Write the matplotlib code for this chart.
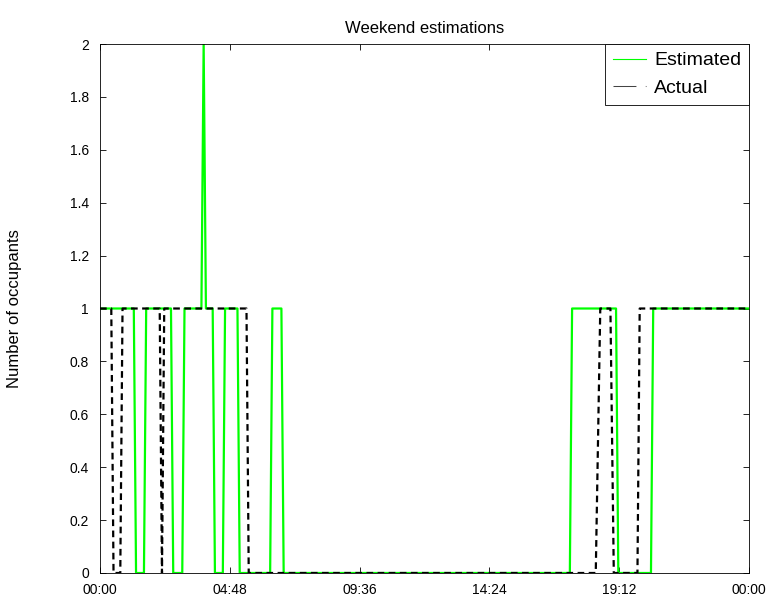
import matplotlib
matplotlib.use("Agg")
from matplotlib import pyplot as plt
from matplotlib.lines import Line2D

plt.rcParams["font.family"] = ["Liberation Sans", "DejaVu Sans"]
plt.rcParams["font.size"] = 10

# vertices, time in hours since 00:00
est_t = [0, 1.25, 1.333, 1.625, 1.708, 2.625, 2.708, 3.042, 3.125, 3.75, 3.833,
         3.917, 4.167, 4.25, 4.542, 4.625, 5.083, 5.167, 6.292, 6.375, 6.708,
         6.792, 17.375, 17.458, 19.083, 19.167, 20.375, 20.458, 24]
est_v = [1, 1, 0, 0, 1, 1, 0, 0, 1, 1, 2,
         1, 1, 0, 0, 1, 1, 0, 0, 1, 1,
         0, 0, 1, 1, 0, 0, 1, 1]

act_t = [0, 0.417, 0.5, 0.75, 0.833, 2.208, 2.292, 2.375, 5.417, 5.5,
         18.333, 18.5, 18.875, 19.0, 19.875, 19.958, 24]
act_v = [1, 1, 0, 0, 1, 1, 0, 1, 1, 0,
         0, 1, 1, 0, 0, 1, 1]

xticks = [0, 4.8, 9.6, 14.4, 19.2, 24]
xlabels = ["00:00", "04:48", "09:36", "14:24", "19:12", "00:00"]
yticks = [0, 0.2, 0.4, 0.6, 0.8, 1, 1.2, 1.4, 1.6, 1.8, 2]
ylabels = ["0", "0.2", "0.4", "0.6", "0.8", "1", "1.2", "1.4", "1.6", "1.8", "2"]

fig = plt.figure(figsize=(7.74, 6.03), dpi=100)
ax = fig.add_axes([100 / 774, 30 / 603, 649 / 774, 529 / 603])

ax.plot(est_t, est_v, color=(0, 1, 0), lw=1.6)
ax.plot(act_t, act_v, color="black", lw=1.6, ls="--", dashes=(3, 2))

ax.set_xlim(0, 24)
ax.set_ylim(0, 2)
ax.set_xticks(xticks)
ax.set_xticklabels(xlabels)
ax.set_yticks(yticks)
ax.set_yticklabels(ylabels)
ax.tick_params(direction="in", top=True, right=True, length=4.5, width=0.6,
               labelsize=10)
ax.tick_params(axis="x", pad=7)
ax.tick_params(axis="y", pad=8)
for s in ax.spines.values():
    s.set_linewidth(0.6)

ax.set_title("Weekend estimations", fontsize=12, pad=8)
ax.set_ylabel("Number of occupants", fontsize=12)
ax.yaxis.set_label_coords(-0.12, 0.5)

# legend drawn with thin lines like the original
handles = [Line2D([], [], color=(0, 1, 0), lw=0.8),
           Line2D([], [], color="#444444", lw=0.75, ls=(0, (22, 9)))]
leg = ax.legend(handles, ["Estimated", "Actual"], loc="upper right",
                borderaxespad=0, fancybox=False, framealpha=1,
                edgecolor="black", fontsize=14, handlelength=1.7,
                handletextpad=0.4, borderpad=0.4, labelspacing=0.5)
leg.get_frame().set_linewidth(0.6)

fig.savefig("out.png", dpi=100)
